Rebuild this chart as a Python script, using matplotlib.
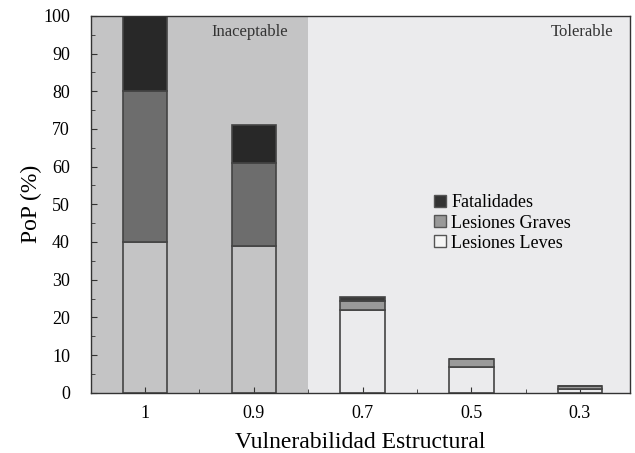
import numpy as np
import matplotlib
matplotlib.use('Agg')
import matplotlib.pyplot as plt
from matplotlib.patches import Patch
from matplotlib.ticker import MultipleLocator

plt.rcParams['font.family'] = ['Liberation Serif', 'DejaVu Serif']

# data
categorias = ['1', '0.9', '0.7', '0.5', '0.3']
leves = [40, 39, 22, 6.8, 1.0]
graves = [40, 22, 2.3, 2.1, 0.9]
fatalidades = [20, 10, 1.1, 0, 0]

x = np.arange(len(categorias))
ancho = 0.41

fig, ax = plt.subplots(figsize=(6.35, 4.53), dpi=100)
fig.subplots_adjust(left=0.143, right=0.992, top=0.965, bottom=0.133)

# zonas
ax.axvspan(-0.5, 1.5, color='#c4c4c5', zorder=0, lw=0)
ax.axvspan(1.5, 4.5, color='#ebebed', zorder=0, lw=0)
ax.text(0.96, 97.8, 'Inaceptable', ha='center', va='top', fontsize=12, color='#333333')
ax.text(4.02, 97.8, 'Tolerable', ha='center', va='top', fontsize=12, color='#333333')

# colores segun zona
c_graves = ['#6d6d6d' if xi < 1.5 else '#9a9a9a' for xi in x]
c_fatal = ['#282828' if xi < 1.5 else '#3a3a3a' for xi in x]

ax.bar(x, leves, ancho, color='none', edgecolor='#444444', lw=1.2, zorder=2)
ax.bar(x, graves, ancho, bottom=leves, color=c_graves, edgecolor='#444444', lw=1.2, zorder=2)
base2 = np.array(leves) + np.array(graves)
ax.bar(x, fatalidades, ancho, bottom=base2, color=c_fatal, edgecolor='#444444', lw=1.2, zorder=2)

ax.set_xlim(-0.5, 4.46)
ax.set_ylim(0, 100)
ax.set_xticks(x)
ax.set_xticklabels(categorias, fontsize=13)
ax.xaxis.set_minor_locator(MultipleLocator(0.5))
ax.yaxis.set_major_locator(MultipleLocator(10))
ax.yaxis.set_minor_locator(MultipleLocator(5))
ax.tick_params(axis='both', which='both', direction='in', colors='#333333', labelcolor='black')
ax.tick_params(axis='both', which='major', length=4, labelsize=13)
ax.tick_params(axis='y', which='major', pad=15)
ax.tick_params(axis='x', which='major', pad=9)
ax.tick_params(axis='both', which='minor', length=3)
ax.tick_params(axis='x', which='both', top=False)
ax.tick_params(axis='y', which='both', right=False)
for s in ax.spines.values():
    s.set_color('#333333')
    s.set_linewidth(1.0)

ax.set_xlabel('Vulnerabilidad Estructural', fontsize=17, labelpad=7)
ax.set_ylabel('PoP (%)', fontsize=17, labelpad=1)

handles = [Patch(facecolor='#333333', edgecolor='#555555'),
           Patch(facecolor='#999999', edgecolor='#555555'),
           Patch(facecolor='#f5f5f5', edgecolor='#555555')]
ax.legend(handles, ['Fatalidades', 'Lesiones Graves', 'Lesiones Leves'],
          loc='upper left', bbox_to_anchor=(0.62, 0.55), frameon=False,
          fontsize=13, handlelength=0.65, handleheight=0.65, handletextpad=0.3,
          labelspacing=0.17, borderpad=0)

fig.savefig('out.png', dpi=100)
